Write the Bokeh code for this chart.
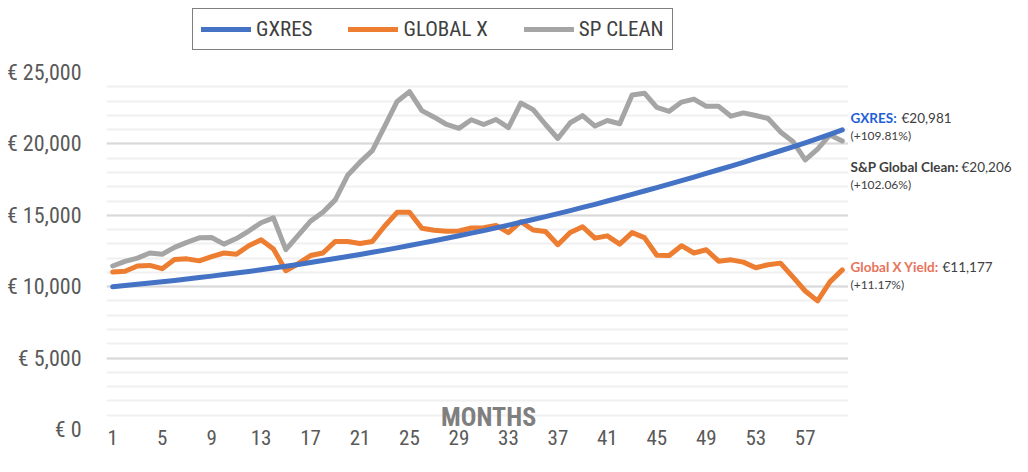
from bokeh.plotting import figure
from bokeh.layouts import row, column
from bokeh.models import (Range1d, FixedTicker, SingleIntervalTicker, CustomJSTickFormatter,
                          Legend, LegendItem, Label, ColumnDataSource)
from bokeh.embed import file_html
from bokeh.resources import INLINE

months = list(range(1, 61))

gxres = [10000, 10080, 10170, 10260, 10350, 10440, 10540, 10640, 10740, 10850,
         10960, 11070, 11190, 11310, 11430, 11560, 11690, 11830, 11970, 12110,
         12260, 12410, 12560, 12720, 12880, 13050, 13220, 13390, 13570, 13750,
         13930, 14120, 14310, 14510, 14710, 14910, 15120, 15330, 15550, 15770,
         16000, 16230, 16460, 16700, 16940, 17180, 17430, 17680, 17930, 18190,
         18450, 18710, 18980, 19250, 19520, 19800, 20080, 20370, 20670, 20981]

global_x = [11030, 11080, 11450, 11490, 11260, 11900, 11950, 11810, 12110, 12360,
            12270, 12870, 13280, 12640, 11120, 11610, 12180, 12360, 13170, 13170,
            13030, 13170, 14250, 15210, 15210, 14090, 13950, 13880, 13900, 14110,
            14130, 14290, 13790, 14550, 13970, 13860, 12940, 13790, 14200, 13400,
            13560, 12980, 13790, 13440, 12200, 12180, 12870, 12360, 12590, 11790,
            11880, 11720, 11330, 11540, 11650, 10690, 9700, 9010, 10340, 11177]

sp_clean = [11450, 11770, 12000, 12360, 12270, 12750, 13100, 13420, 13440, 12980,
            13370, 13900, 14480, 14820, 12600, 13600, 14590, 15210, 16080, 17800,
            18720, 19530, 21250, 22970, 23660, 22330, 21870, 21360, 21090, 21690,
            21360, 21710, 21140, 22860, 22400, 21360, 20380, 21480, 21980, 21250,
            21640, 21410, 23430, 23550, 22550, 22280, 22930, 23140, 22630, 22630,
            21940, 22170, 21990, 21780, 20840, 20170, 18880, 19640, 20630, 20206]

series_names = ["GXRES", "GLOBAL X", "SP CLEAN"]
x_tick_labels = [1, 5, 9, 13, 17, 21, 25, 29, 33, 37, 41, 45, 49, 53, 57]
x_title = "MONTHS"

end_names = ["GXRES:", "S&P Global Clean:", "Global X Yield:"]
end_values = ["€20,981", "€20,206", "€11,177"]
end_pcts = ["(+109.81%)", "(+102.06%)", "(+11.17%)"]

BLUE = "#4472C4"
ORANGE = "#ED7D31"
GREY = "#A5A5A5"
COLORS = [BLUE, ORANGE, GREY]
NARROW = "Liberation Sans Narrow, Roboto Condensed, Lato"

HEAD = 56          # height of the legend strip
TOP = 72 - HEAD    # space above the plot frame
BOTTOM = 27
MAIN_H = 456 - HEAD


def bare(fig):
    fig.outline_line_color = None
    fig.xgrid.grid_line_color = None
    fig.ygrid.grid_line_color = None
    fig.border_fill_color = "white"
    fig.background_fill_color = "white"


# ---- legend strip (its lines lie outside its own visible range) ---------
h = figure(width=1012, height=HEAD, output_backend="svg", toolbar_location=None,
           x_range=Range1d(0, 1), y_range=Range1d(0, 1), x_axis_type=None, y_axis_type=None,
           min_border_left=0, min_border_right=0, min_border_top=0, min_border_bottom=0)
bare(h)
hidden = ColumnDataSource(dict(x=[5, 6], y=[5, 5]))
leg_items = []
for name, col in zip(series_names, COLORS):
    r = h.line("x", "y", source=hidden, line_color=col, line_width=5, line_cap="round")
    leg_items.append(LegendItem(label=name, renderers=[r]))
legend = Legend(items=leg_items, orientation="horizontal", location=(192, 6))
legend.label_text_font = NARROW
legend.label_text_font_size = "21px"
legend.label_text_color = "#404040"
legend.glyph_width = 50
legend.label_standoff = 5
legend.spacing = 36
legend.padding = 8
legend.margin = 0
legend.border_line_color = "black"
legend.border_line_width = 1.5
legend.background_fill_color = "white"
h.add_layout(legend)

# ---- main chart ---------------------------------------------------------
p = figure(width=848, height=MAIN_H, output_backend="svg", toolbar_location=None,
           x_range=Range1d(0.5, 60.5), y_range=Range1d(0, 25000),
           min_border_left=106, min_border_right=0, min_border_top=TOP,
           min_border_bottom=BOTTOM)
bare(p)

src = ColumnDataSource(dict(m=months, gxres=gxres, gx=global_x, sp=sp_clean))
p.line("m", "sp", source=src, line_color=GREY, line_width=5, line_join="round", line_cap="round")
p.line("m", "gx", source=src, line_color=ORANGE, line_width=5, line_join="round", line_cap="round")
p.line("m", "gxres", source=src, line_color=BLUE, line_width=5, line_join="round", line_cap="round")

p.xaxis.ticker = FixedTicker(ticks=x_tick_labels)
p.xaxis.axis_line_color = None
p.xaxis.major_tick_line_color = None
p.xaxis.minor_tick_line_color = None
p.xaxis.major_tick_out = 0
p.xaxis.major_tick_in = 0
p.xaxis.major_label_standoff = 0
p.xaxis.major_label_text_font = NARROW
p.xaxis.major_label_text_font_size = "21px"
p.xaxis.major_label_text_color = "#595959"

yt = SingleIntervalTicker(interval=5000, num_minor_ticks=5)
p.yaxis.ticker = yt
p.yaxis.formatter = CustomJSTickFormatter(code="return '€ ' + tick.toLocaleString('en-US');")
p.yaxis.axis_line_color = None
p.yaxis.major_tick_line_color = None
p.yaxis.minor_tick_line_color = None
p.yaxis.major_tick_out = 0
p.yaxis.major_tick_in = 0
p.yaxis.major_label_standoff = 21
p.yaxis.major_label_text_font = NARROW
p.yaxis.major_label_text_font_size = "22px"
p.yaxis.major_label_text_color = "#595959"

p.ygrid.ticker = yt
p.ygrid.grid_line_color = "#d9d9d9"
p.ygrid.grid_line_width = 2
p.ygrid.minor_grid_line_color = "#f0f0f0"
p.ygrid.minor_grid_line_width = 2

p.add_layout(Label(x=31.4, y=900, text=x_title, text_font=NARROW, text_font_style="bold",
                   text_font_size="26px", text_color="#7f7f7f", text_align="center",
                   text_baseline="middle"))

# ---- right-hand notes panel, sharing the y scale ------------------------
q = figure(width=164, height=MAIN_H, output_backend="svg", toolbar_location=None,
           x_range=Range1d(0, 1), y_range=p.y_range, x_axis_type=None, y_axis_type=None,
           min_border_left=0, min_border_right=0, min_border_top=TOP,
           min_border_bottom=BOTTOM)
bare(q)

finals = [gxres[-1], sp_clean[-1], global_x[-1]]
name_colors = ["#1f5fd6", "#404040", "#e8735a"]
name_dy = [12, -26, 3]
value_dx = [53, 113, 94]
for name, val, pct, fv, col, dy, vx in zip(end_names, end_values, end_pcts, finals,
                                           name_colors, name_dy, value_dx):
    q.add_layout(Label(x=0, y=fv, x_offset=2, y_offset=dy, text=name, text_font="Lato",
                       text_font_style="bold", text_font_size="13.5px", text_color=col,
                       text_baseline="middle"))
    q.add_layout(Label(x=0, y=fv, x_offset=vx, y_offset=dy, text=val, text_font="Lato",
                       text_font_size="13.5px", text_color="#404040", text_baseline="middle"))
    q.add_layout(Label(x=0, y=fv, x_offset=2, y_offset=dy - 18, text=pct, text_font="Lato",
                       text_font_size="12px", text_color="#404040", text_baseline="middle"))

layout = column(h, row(p, q))
open("out.html", "w").write(file_html(layout, INLINE))
